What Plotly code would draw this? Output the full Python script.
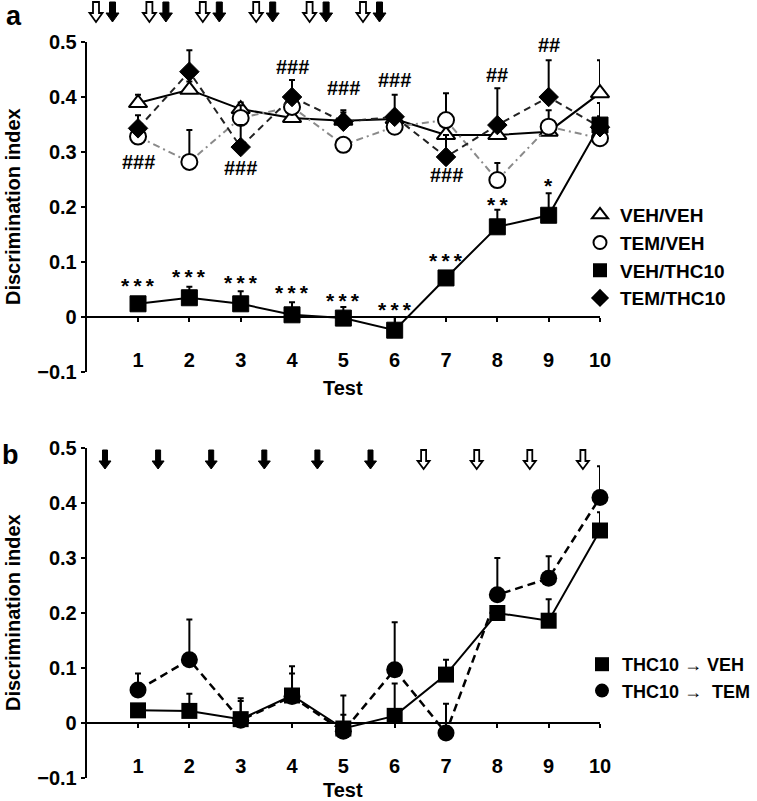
import plotly.graph_objects as go

# ---------------- data ----------------
tests = [1, 2, 3, 4, 5, 6, 7, 8, 9, 10]
tick_vals_y = [-0.1, 0, 0.1, 0.2, 0.3, 0.4, 0.5]
tick_text_y = ["\u22120.1", "0", "0.1", "0.2", "0.3", "0.4", "0.5"]

# panel a
veh_veh = [0.389, 0.413, 0.378, 0.362, 0.357, 0.360, 0.331, 0.331, 0.337, 0.407]
veh_veh_err = [0.015, 0.015, 0.012, 0.010, 0.015, 0.015, 0.010, 0.012, 0.010, 0.060]
tem_veh = [0.328, 0.282, 0.362, 0.382, 0.313, 0.346, 0.358, 0.249, 0.346, 0.325]
tem_veh_err = [0.010, 0.058, 0.023, 0.010, 0.010, 0.010, 0.049, 0.031, 0.030, 0.010]
veh_thc10 = [0.024, 0.035, 0.024, 0.004, -0.002, -0.024, 0.071, 0.164, 0.185, 0.349]
veh_thc10_err = [0.008, 0.020, 0.023, 0.023, 0.020, 0.024, 0.010, 0.031, 0.040, 0.040]
tem_thc10 = [0.343, 0.446, 0.309, 0.400, 0.355, 0.364, 0.291, 0.349, 0.400, 0.345]
tem_thc10_err = [0.024, 0.039, 0.040, 0.031, 0.021, 0.040, 0.040, 0.067, 0.067, 0.020]

hash_tests = [1, 2, 3, 4, 5, 6, 7, 8, 9]
hash_labels = ["###", "###", "###", "###", "###", "###", "###", "##", "##"]
hash_y = [0.282, 0.505, 0.271, 0.455, 0.416, 0.431, 0.258, 0.440, 0.495]
star_tests = [1, 2, 3, 4, 5, 6, 7, 8, 9]
star_labels = ["***", "***", "***", "***", "***", "***", "***", "**", "*"]
star_y = [0.067, 0.082, 0.071, 0.053, 0.040, 0.022, 0.111, 0.213, 0.249]

# panel b
thc_veh = [0.023, 0.022, 0.007, 0.050, -0.010, 0.013, 0.088, 0.200, 0.186, 0.350]
thc_veh_err = [0.005, 0.031, 0.038, 0.053, 0.060, 0.059, 0.027, 0.010, 0.039, 0.033]
thc_tem = [0.060, 0.115, 0.005, 0.048, -0.015, 0.097, -0.018, 0.233, 0.263, 0.410]
thc_tem_err = [0.030, 0.073, 0.035, 0.042, 0.030, 0.086, 0.053, 0.067, 0.040, 0.057]

# ---------------- layout helpers ----------------
W, H = 757, 801
FONT = "Liberation Sans, Arial, sans-serif"


def fx(p):
    return p / W


def fy(p):
    return 1 - p / H


x_dom = [fx(86.7), fx(600)]
ya_dom = [fy(372), fy(42)]
yb_dom = [fy(778), fy(448)]
YR = [-0.1, 0.5]


def zero_pos(dom):
    return dom[0] + (dom[1] - dom[0]) * (0 - YR[0]) / (YR[1] - YR[0])


fig = go.Figure()


def err(arr):
    return dict(type="data", symmetric=False, array=arr, arrayminus=[0] * len(arr),
                thickness=2, width=3, color="black")


common = dict(cliponaxis=False, mode="lines+markers", showlegend=False)

# panel a traces
fig.add_trace(go.Scatter(x=tests, y=veh_veh, error_y=err(veh_veh_err), xaxis="x", yaxis="y",
                         line=dict(color="black", width=2),
                         marker=dict(symbol="triangle-up", size=16, color="white",
                                     line=dict(color="black", width=2)), **common))
fig.add_trace(go.Scatter(x=tests, y=tem_veh, error_y=err(tem_veh_err), xaxis="x", yaxis="y",
                         line=dict(color="#8a8a8a", width=2, dash="7px,4px,2px,4px"),
                         marker=dict(symbol="circle", size=16, color="white",
                                     line=dict(color="black", width=2)), **common))
fig.add_trace(go.Scatter(x=tests, y=tem_thc10, error_y=err(tem_thc10_err), xaxis="x", yaxis="y",
                         line=dict(color="#222222", width=2, dash="7px,5px"),
                         marker=dict(symbol="diamond", size=15, color="black",
                                     line=dict(color="black", width=1)), **common))
fig.add_trace(go.Scatter(x=tests, y=veh_thc10, error_y=err(veh_thc10_err), xaxis="x", yaxis="y",
                         line=dict(color="black", width=2),
                         marker=dict(symbol="square", size=16, color="black",
                                     line=dict(color="black", width=1)), **common))

# panel b traces
fig.add_trace(go.Scatter(x=tests, y=thc_tem, error_y=err(thc_tem_err), xaxis="x2", yaxis="y2",
                         line=dict(color="black", width=2.5, dash="8px,5px"),
                         marker=dict(symbol="circle", size=17, color="black"), **common))
fig.add_trace(go.Scatter(x=tests, y=thc_veh, error_y=err(thc_veh_err), xaxis="x2", yaxis="y2",
                         line=dict(color="black", width=2),
                         marker=dict(symbol="square", size=16, color="black"), **common))

# legend-only entries
leg_a = [("VEH/VEH", dict(symbol="triangle-up", size=14, color="white", line=dict(color="black", width=2))),
         ("TEM/VEH", dict(symbol="circle", size=13, color="white", line=dict(color="black", width=2))),
         ("VEH/THC10", dict(symbol="square", size=14, color="black")),
         ("TEM/THC10", dict(symbol="diamond", size=14, color="black"))]
for name, mk in leg_a:
    fig.add_trace(go.Scatter(x=[None], y=[None], mode="markers", name=name, marker=mk,
                             xaxis="x", yaxis="y", legend="legend", showlegend=True))
leg_b = [("THC10 \u2192 VEH", dict(symbol="square", size=14, color="black")),
         ("THC10 \u2192  TEM", dict(symbol="circle", size=14, color="black"))]
for name, mk in leg_b:
    fig.add_trace(go.Scatter(x=[None], y=[None], mode="markers", name=name, marker=mk,
                             xaxis="x2", yaxis="y2", legend="legend2", showlegend=True))

xax = dict(range=[0, 10], showline=True, linewidth=2, linecolor="black", ticks="outside",
           ticklen=4, tickwidth=2, tickcolor="black", tickvals=tests, showgrid=False,
           zeroline=False, anchor="free", ticklabelstandoff=21, automargin=False,
           tickfont=dict(size=20, family=FONT, color="black", weight="bold"))
yax = dict(range=YR, showline=True, linewidth=2, linecolor="black", ticks="outside",
           ticklen=4, tickwidth=2, tickcolor="black", tickvals=tick_vals_y,
           ticktext=tick_text_y, showgrid=False, zeroline=False, automargin=False,
           tickfont=dict(size=20, family=FONT, color="black", weight="bold"))

fig.update_layout(
    width=W, height=H, margin=dict(l=0, r=0, t=0, b=0, autoexpand=False),
    paper_bgcolor="white", plot_bgcolor="white",
    font=dict(family=FONT, size=19, color="black", weight="bold"),
    xaxis=dict(xax, domain=x_dom, position=zero_pos(ya_dom)),
    yaxis=dict(yax, domain=ya_dom, anchor="x"),
    xaxis2=dict(xax, domain=x_dom, position=zero_pos(yb_dom)),
    yaxis2=dict(yax, domain=yb_dom, anchor="x2"),
    legend=dict(x=fx(580), y=fy(196), xanchor="left", yanchor="top",
                bgcolor="rgba(0,0,0,0)", tracegroupgap=0,
                font=dict(size=19, family=FONT, color="black", weight="bold")),
    legend2=dict(x=fx(582), y=fy(646), xanchor="left", yanchor="top",
                 bgcolor="rgba(0,0,0,0)", tracegroupgap=0,
                 font=dict(size=18, family=FONT, color="black", weight="bold")),
)

ann = []
C = dict(xanchor="center", yanchor="middle", showarrow=False, xref="paper", yref="paper")
# axis titles and panel letters
ann.append(dict(C, text="Discrimination index", x=fx(13), y=fy(207), textangle=-90,
                font=dict(size=20)))
ann.append(dict(C, text="Discrimination index", x=fx(13), y=fy(613), textangle=-90,
                font=dict(size=20)))
ann.append(dict(C, text="Test", x=fx(343), y=fy(388), font=dict(size=20)))
ann.append(dict(C, text="Test", x=fx(343), y=fy(790), font=dict(size=20)))
ann.append(dict(C, text="a", x=fx(14), y=fy(16), font=dict(size=27)))
ann.append(dict(C, text="b", x=fx(10), y=fy(455), font=dict(size=27)))
for t, lab, yv in zip(hash_tests, hash_labels, hash_y):
    ann.append(dict(text=lab, x=t, y=yv, xref="x", yref="y", showarrow=False,
                    xanchor="center", yanchor="middle", font=dict(size=20)))
for t, lab, yv in zip(star_tests, star_labels, star_y):
    ann.append(dict(text="\u2009".join(lab), x=t, y=yv, xref="x", yref="y", showarrow=False,
                    xanchor="center", yanchor="middle", yshift=-5, font=dict(size=21)))
fig.update_layout(annotations=ann)


# dosing arrows (decorations, pixel layout)
def arrow(cx, top, filled, h=20, hw=13, sw=6, hh=9):
    pts = [(cx - sw / 2, top), (cx + sw / 2, top), (cx + sw / 2, top + h - hh),
           (cx + hw / 2, top + h - hh), (cx, top + h), (cx - hw / 2, top + h - hh),
           (cx - sw / 2, top + h - hh)]
    path = "M " + " L ".join(f"{fx(a):.5f},{fy(b):.5f}" for a, b in pts) + " Z"
    return dict(type="path", path=path, xref="paper", yref="paper",
                fillcolor="black" if filled else "white",
                line=dict(color="black", width=1 if filled else 1.8))


shapes = []
for k in range(6):
    cx = 96 + 53.4 * k
    shapes.append(arrow(cx, 2, False))
    shapes.append(arrow(cx + 16.5, 2, True))
for k in range(10):
    cx = 105 + 53.1 * k
    shapes.append(arrow(cx, 450, k < 6, h=19, hw=12, sw=5, hh=8))
fig.update_layout(shapes=shapes)

fig.write_html("out.html", config={"displayModeBar": False},
               post_script="document.body.style.margin='0px';document.body.style.overflow='hidden';")
